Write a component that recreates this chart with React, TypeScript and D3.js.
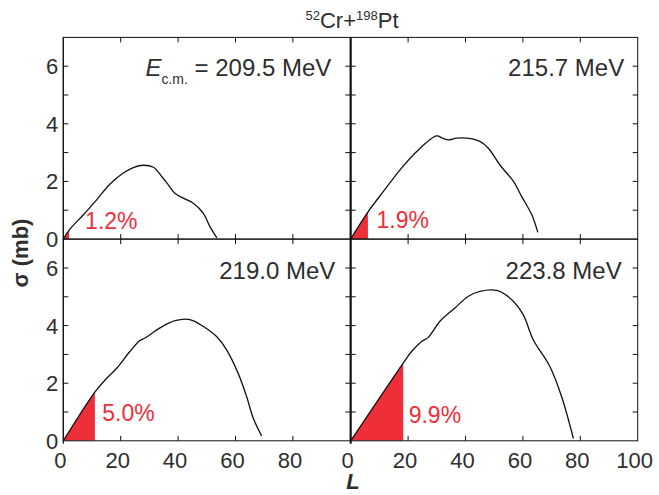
import * as d3 from 'd3'

// energies (MeV), shaded fractions, cut-off L for shaded region
const energies = ['209.5', '215.7', '219.0', '223.8']
const percents = ['1.2%', '1.9%', '5.0%', '9.9%']
const cutL = [2, 6, 11, 18.3]

// sigma(L) curves, [L, sigma in mb]
const curve209 = [
    [0, 0], [2.3, 0.34], [7, 0.84], [11.6, 1.36], [16.3, 1.91], [20.9, 2.29], [24.4, 2.48],
    [27.9, 2.56], [31.4, 2.49], [34.3, 2.17], [36.6, 1.88], [38.9, 1.59], [41.8, 1.42],
    [45.3, 1.24], [48.8, 0.89], [51.1, 0.43], [53.5, 0.04],
]
const curve215 = [
    [0, 0], [6.1, 0.95], [11.4, 1.65], [17.2, 2.4], [23, 3.04], [29.9, 3.58], [32, 3.5],
    [34, 3.44], [36.9, 3.5], [40.4, 3.5], [45, 3.39], [47.9, 3.16], [52, 2.57], [56.7, 2.0],
    [59.6, 1.47], [63.1, 0.84], [65.2, 0.23],
]
const curve219 = [
    [0, 0], [11, 1.69], [15.1, 2.17], [18.6, 2.52], [23.2, 3.1], [26.7, 3.48], [28.5, 3.57],
    [33.7, 3.92], [38.9, 4.17], [44.1, 4.21], [48.8, 3.97], [53.4, 3.62], [56.9, 3.16],
    [60.9, 2.35], [63.9, 1.53], [66.2, 0.78], [69.1, 0.17],
]
const curve223 = [
    [0, 0], [18.3, 2.7], [21.2, 3.1], [24.7, 3.45], [27.1, 3.6], [31.1, 4.15], [36.3, 4.61],
    [41, 5.02], [45, 5.19], [50.9, 5.22], [56.1, 4.9], [60.1, 4.38], [63.6, 3.51],
    [69.4, 2.58], [73.5, 1.53], [77.6, 0.08],
]
const curves = [curve209, curve215, curve219, curve223]

const xTicks = [0, 20, 40, 60, 80, 100]
const yTicks = [0, 1, 2, 3, 4, 5, 6]
const yLabels = [0, 2, 4, 6]

// layout
const W = 659
const H = 495
const colX = [63.3, 350.7]
const rowY = [37.4, 239.2]
const pw = 287
const ph = 201.6
const tickLen = 5
const red = '#ee2e38'
const ink = '#2e2e2e'
const font = "'Liberation Sans', Arial, Helvetica, sans-serif"

const panels = [
    { col: 0, row: 0, labelGap: 19, pctAt: [7.6, 0.34] },
    { col: 1, row: 0, labelGap: 13.5, pctAt: [9.0, 0.38] },
    { col: 0, row: 1, labelGap: 15, pctAt: [13.6, 0.7] },
    { col: 1, row: 1, labelGap: 16, pctAt: [20.2, 0.63] },
]

function Panel({ i }) {
    const p = panels[i]
    const x0 = colX[p.col]
    const y0 = rowY[p.row]
    const x = d3.scaleLinear().domain([0, 100]).range([x0, x0 + pw])
    const y = d3.scaleLinear().domain([0, 7]).range([y0 + ph, y0])
    const data = curves[i]
    const line = d3.line().x(d => x(d[0])).y(d => y(d[1])).curve(d3.curveCatmullRom.alpha(0.5))
    const area = d3.area().x(d => x(d[0])).y0(y(0)).y1(d => y(d[1])).curve(d3.curveCatmullRom.alpha(0.5))
    const clipId = `clip-${i}`
    const isBottom = p.row === 1
    const isLeft = p.col === 0

    return (
        <g>
            <defs>
                <clipPath id={clipId}>
                    <rect x={x(0)} y={y(7)} width={x(cutL[i]) - x(0)} height={ph} />
                </clipPath>
            </defs>
            <path d={area(data)} fill={red} clipPath={`url(#${clipId})`} />
            <path d={line(data)} fill="none" stroke="#111" strokeWidth={1.3} />

            <rect x={x0} y={y0} width={pw} height={ph} fill="none" stroke="#111" strokeWidth={1} />

            {xTicks.filter(t => t > 0 && t < 100).map(t => (
                <g key={'xt' + t}>
                    <line x1={x(t)} x2={x(t)} y1={y(0)} y2={y(0) - tickLen} stroke="#111" />
                    <line x1={x(t)} x2={x(t)} y1={y(7)} y2={y(7) + tickLen} stroke="#111" />
                </g>
            ))}
            {yTicks.filter(t => t > 0).map(t => (
                <g key={'yt' + t}>
                    <line x1={x(0)} x2={x(0) + tickLen} y1={y(t)} y2={y(t)} stroke="#111" />
                    <line x1={x(100)} x2={x(100) - tickLen} y1={y(t)} y2={y(t)} stroke="#111" />
                </g>
            ))}

            {isLeft && yLabels.map(t => (
                <text key={'yl' + t} x={x0 - 5} y={y(t) + 8} textAnchor="end"
                    fontSize={22} fill={ink} fontFamily={font}>{t}</text>
            ))}
            {isBottom && xTicks.filter(t => isLeft ? t < 100 : true).map(t => (
                <text key={'xl' + t} x={x(t) - 3} y={467.5} textAnchor="middle"
                    fontSize={22} fill={ink} fontFamily={font}>{t}</text>
            ))}

            <text x={x(100) - p.labelGap} y={y0 + (p.row === 0 ? 38.5 : 40)} textAnchor="end"
                fontSize={24} fill={ink} fontFamily={font}>
                {i === 0 && <tspan fontStyle="italic">E</tspan>}
                {i === 0 && <tspan fontSize={14} dy={8}>c.m.</tspan>}
                {i === 0 && <tspan dy={-8}>{' = '}</tspan>}
                {energies[i] + ' MeV'}
            </text>

            <text x={x(p.pctAt[0])} y={y(p.pctAt[1])} fontSize={23} fill={red} fontFamily={font}>
                {percents[i]}
            </text>
        </g>
    )
}

export default function App() {
    return (
        <svg width={W} height={H} style={{ position: 'absolute', left: 0, top: 0, background: '#fff' }}>
            {panels.map((_, i) => <Panel key={i} i={i} />)}
            <line x1={colX[1]} x2={colX[1]} y1={rowY[0]} y2={rowY[1] + ph + 3} stroke="#111" strokeWidth={2} />
            <line x1={colX[0]} x2={colX[0]} y1={rowY[0]} y2={rowY[1] + ph + 3} stroke="#111" strokeWidth={1.2} />

            <text x={352} y={28} textAnchor="middle" fontSize={22} fill={ink} fontFamily={font}>
                <tspan fontSize={13} dy={-8}>52</tspan>
                <tspan dy={8}>Cr+</tspan>
                <tspan fontSize={13} dy={-8}>198</tspan>
                <tspan dy={8}>Pt</tspan>
            </text>

            <text transform="translate(28, 253) rotate(-90)" textAnchor="middle" fontSize={22}
                fontWeight="bold" fill={ink} fontFamily={font}>σ (mb)</text>

            <text x={353} y={489} textAnchor="middle" fontSize={22} fontWeight="bold"
                fontStyle="italic" fill={ink} fontFamily={font}>L</text>
        </svg>
    )
}
